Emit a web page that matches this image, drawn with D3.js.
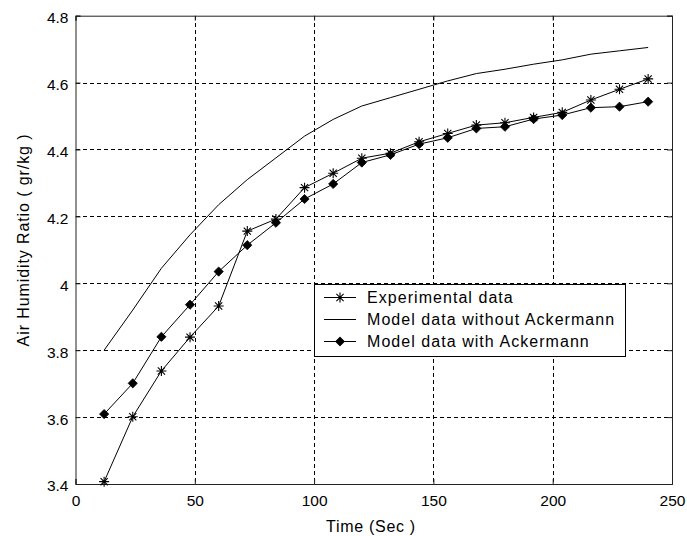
<!DOCTYPE html>
<html>
<head>
<meta charset="utf-8">
<script src="https://cdn.jsdelivr.net/npm/d3@7"></script>
<style>
  html, body { margin: 0; padding: 0; background: #fff; }
  svg { display: block; }
  text { font-family: "Liberation Sans", Arial, sans-serif; fill: #000; }
</style>
</head>
<body>
<svg id="chart" width="687" height="536"></svg>
<script>
// ---- data ----
const time = [12, 24, 36, 48, 60, 72, 84, 96, 108, 120, 132, 144, 156, 168, 180, 192, 204, 216, 228, 240];
const experimental = [3.407, 3.601, 3.738, 3.839, 3.932, 4.156, 4.192, 4.286, 4.329, 4.374, 4.389, 4.423, 4.448, 4.473, 4.480, 4.496, 4.511, 4.548, 4.580, 4.611];
const modelWithout = [3.800, 3.920, 4.045, 4.145, 4.235, 4.310, 4.375, 4.440, 4.490, 4.530, 4.555, 4.580, 4.605, 4.627, 4.640, 4.655, 4.668, 4.685, 4.695, 4.705];
const modelWith = [3.609, 3.701, 3.840, 3.936, 4.035, 4.114, 4.181, 4.252, 4.297, 4.361, 4.384, 4.416, 4.435, 4.463, 4.468, 4.491, 4.503, 4.525, 4.528, 4.543];
const xTicks = [0, 50, 100, 150, 200, 250];
const yTicks = [3.4, 3.6, 3.8, 4.0, 4.2, 4.4, 4.6, 4.8];
const yTickLabels = ["3.4", "3.6", "3.8", "4", "4.2", "4.4", "4.6", "4.8"];
const legendLabels = ["Experimental data", "Model data without Ackermann", "Model data with Ackermann"];
const xTitle = "Time (Sec )";
const yTitle = "Air Humidity Ratio ( gr/kg )";

// ---- layout ----
const L = 75.5, R = 672, T = 15.7, B = 484;
const svg = d3.select("#chart");
const x = d3.scaleLinear().domain([0, 250]).range([L, R]);
const y = d3.scaleLinear().domain([3.4, 4.8]).range([B, T]);

// grid
const grid = svg.append("g").attr("stroke", "#000").attr("stroke-width", 1).attr("stroke-dasharray", "4,3").attr("shape-rendering", "crispEdges");
xTicks.slice(1, -1).forEach(t => {
  grid.append("line").attr("x1", Math.round(x(t)) + 0.5).attr("x2", Math.round(x(t)) + 0.5).attr("y1", T).attr("y2", B);
});
yTicks.slice(1, -1).forEach(t => {
  grid.append("line").attr("y1", Math.round(y(t)) + 0.5).attr("y2", Math.round(y(t)) + 0.5).attr("x1", L).attr("x2", R);
});

// axes (ticks inward)
const tickLen = 5;
const axB = svg.append("g").attr("transform", `translate(0,${B})`)
  .call(d3.axisBottom(x).tickValues(xTicks).tickSize(-tickLen).tickPadding(11).tickFormat(d3.format("d")));
const axT = svg.append("g").attr("transform", `translate(0,${T})`)
  .call(d3.axisTop(x).tickValues(xTicks).tickSize(-tickLen).tickFormat(""));
const axL = svg.append("g").attr("transform", `translate(${L},0)`)
  .call(d3.axisLeft(y).tickValues(yTicks).tickSize(-tickLen).tickPadding(7).tickFormat((d, i) => yTickLabels[i]));
const axR = svg.append("g").attr("transform", `translate(${R},0)`)
  .call(d3.axisRight(y).tickValues(yTicks).tickSize(-tickLen).tickFormat(""));
[axB, axT, axL, axR].forEach(a => {
  a.select(".domain").attr("stroke", "#222");
  a.selectAll(".tick line").attr("stroke", "#222");
  a.selectAll("text").attr("font-size", 15.5).attr("font-family", "'Liberation Sans', Arial, sans-serif").attr("fill", "#000");
});
axL.selectAll("text").attr("dy", "0.45em");

// series
const lineGen = d3.line().x(d => x(d[0])).y(d => y(d[1]));
const zip = arr => time.map((t, i) => [t, arr[i]]);
const plot = svg.append("g");

plot.append("path").datum(zip(modelWithout)).attr("d", lineGen).attr("fill", "none").attr("stroke", "#000").attr("stroke-width", 1);
plot.append("path").datum(zip(modelWith)).attr("d", lineGen).attr("fill", "none").attr("stroke", "#000").attr("stroke-width", 1);
plot.append("path").datum(zip(experimental)).attr("d", lineGen).attr("fill", "none").attr("stroke", "#000").attr("stroke-width", 1);

function star(g, cx, cy) {
  const s = 5, d = 3.6;
  const p = `M${cx - s},${cy}L${cx + s},${cy}M${cx},${cy - s}L${cx},${cy + s}` +
            `M${cx - d},${cy - d}L${cx + d},${cy + d}M${cx - d},${cy + d}L${cx + d},${cy - d}`;
  g.append("path").attr("d", p).attr("stroke", "#000").attr("stroke-width", 1.1).attr("fill", "none");
}
function diamond(g, cx, cy) {
  const s = 4.6;
  g.append("path").attr("d", `M${cx},${cy - s}L${cx + s},${cy}L${cx},${cy + s}L${cx - s},${cy}Z`).attr("fill", "#000").attr("stroke", "#000").attr("stroke-width", 0.8);
}
zip(modelWith).forEach(d => diamond(plot, x(d[0]), y(d[1])));
zip(experimental).forEach(d => star(plot, x(d[0]), y(d[1])));

// legend
const lg = svg.append("g");
lg.append("rect").attr("x", 314.5).attr("y", 284.5).attr("width", 311).attr("height", 72).attr("fill", "#fff").attr("stroke", "#000").attr("stroke-width", 1);
const rowsY = [297.5, 319.5, 341.5];
legendLabels.forEach((lab, i) => {
  const yy = rowsY[i];
  lg.append("line").attr("x1", 324).attr("x2", 356).attr("y1", yy).attr("y2", yy).attr("stroke", "#000").attr("stroke-width", 1);
  if (i === 0) star(lg, 340, yy);
  if (i === 2) diamond(lg, 340, yy);
  lg.append("text").attr("x", 367).attr("y", yy).attr("dy", "0.36em")
    .attr("font-size", 16).attr("letter-spacing", "1.05px").text(lab);
});

// axis titles
svg.append("text").attr("x", 371).attr("y", 532).attr("text-anchor", "middle")
  .attr("font-size", 16).attr("letter-spacing", "0.7px").text(xTitle);
svg.append("text").attr("transform", "translate(28.5,240) rotate(-90)").attr("text-anchor", "middle")
  .attr("font-size", 16).attr("letter-spacing", "0.9px").text(yTitle);
</script>
</body>
</html>
